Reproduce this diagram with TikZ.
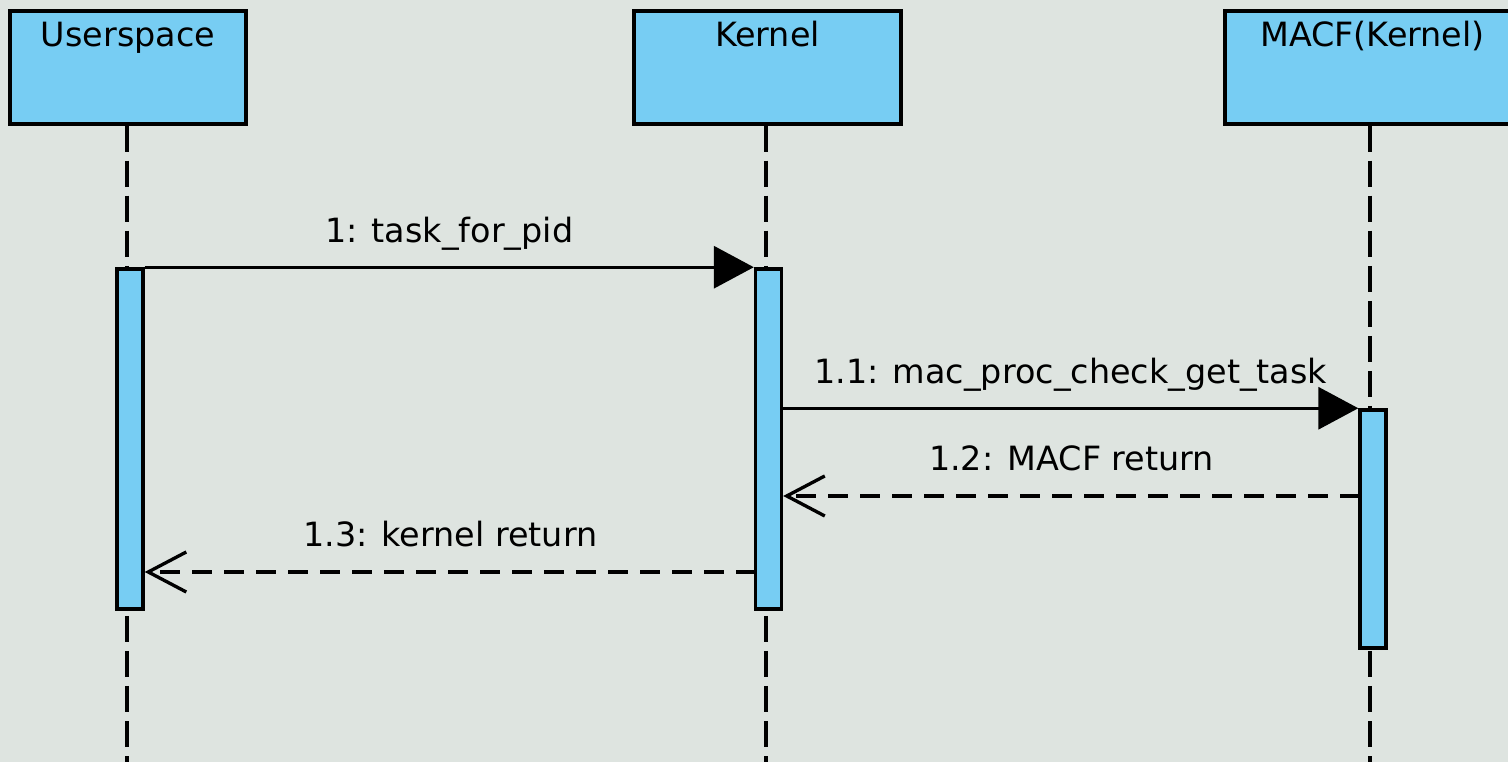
\documentclass[tikz,border=0pt]{standalone}
\usepackage{fontspec}
\setmainfont{DejaVu Sans}
\usetikzlibrary{arrows.meta}
\definecolor{bgcol}{RGB}{222,228,224}
\definecolor{boxblue}{RGB}{119,205,243}

\begin{document}
\begin{tikzpicture}[
        x=0.01cm, y=-0.01cm,
        font=\fontsize{9.5}{11}\selectfont,
        actor/.style={rectangle, draw, line width=0.95pt, fill=boxblue, minimum height=1.13cm, inner ysep=0pt, text height=0.36cm, text depth=0.77cm},
        bar/.style={rectangle, draw, line width=0.95pt, fill=boxblue, minimum width=0.26cm, inner sep=0pt},
        lifeline/.style={line width=0.95pt, dash pattern=on 0.26cm off 0.09cm},
        call/.style={-{Triangle[length=0.4cm, width=0.42cm]}, line width=0.95pt},
        reply/.style={-{Straight Barb[length=0.38cm, width=0.4cm]}, line width=0.95pt, dash pattern=on 0.2cm off 0.12cm},
        msg/.style={midway, anchor=base, yshift=0.25cm}
    ]
        \useasboundingbox (0,0) rectangle (1508,762);
        \fill[bgcol] (0,0) rectangle (1508,762);
        \clip (0,0) rectangle (1508,762);

        % Participants
        \node[actor, minimum width=2.36cm] (user) at (128,67.5) {Userspace};
        \node[actor, minimum width=2.67cm] (kernel) at (767.5,67.5) {Kernel};
        \node[actor, minimum width=2.95cm] (macf) at (1372.5,67.5) {MACF(Kernel)};

        \coordinate (userend) at (127,762);
        \coordinate (kernelend) at (766,762);
        \coordinate (macfend) at (1370,762);

        \draw[lifeline] (user.south -| userend) -- (userend);
        \draw[lifeline] (kernel.south -| kernelend) -- (kernelend);
        \draw[lifeline] (macf.south -| macfend) -- (macfend);

        % Activations
        \node[bar, minimum height=3.4cm] (userbar) at (130,439) {};
        \node[bar, minimum height=3.4cm] (kernelbar) at (768.5,439) {};
        \node[bar, minimum height=2.38cm] (macfbar) at (1373,529) {};

        % Messages
        \draw[call] (userbar.north east) -- (kernelbar.north west) node[msg] {1: task\_for\_pid};
        \draw[call] (kernelbar.east |- macfbar.north) -- (macfbar.north west) node[msg] {1.1: mac\_proc\_check\_get\_task};

        \coordinate (macfret) at (1360,496);
        \coordinate (kernelret) at (756,572);
        \draw[reply] (macfret) -- (kernelbar.east |- macfret) node[msg] {1.2: MACF return};
        \draw[reply] (kernelret) -- (userbar.east |- kernelret) node[msg] {1.3: kernel return};
    \end{tikzpicture}
\end{document}
